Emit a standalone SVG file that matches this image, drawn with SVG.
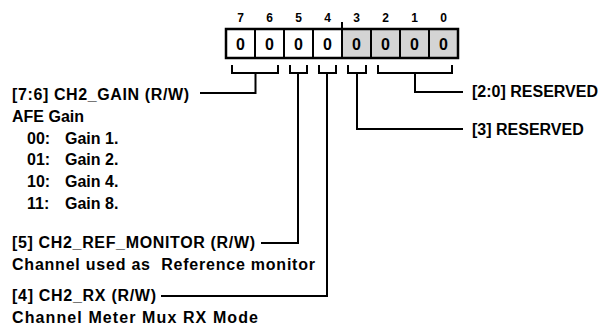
<svg xmlns="http://www.w3.org/2000/svg" width="604" height="333" viewBox="0 0 604 333">
<style>
text{font-family:"Liberation Sans",Arial,sans-serif;font-weight:bold;fill:#000}
.lbl{font-size:16px}
.num{font-size:12px;text-anchor:middle}
.bit{font-size:16px;text-anchor:middle}
.cell{stroke:#000;stroke-width:2}
.w{fill:#fff}
.g{fill:#d4d4d4}
.conn{fill:none;stroke:#000;stroke-width:2}
</style>
<rect width="604" height="333" fill="#fff"/>
<g id="register">
<rect class="cell w" x="226" y="29" width="29" height="29"/>
<rect class="cell w" x="255" y="29" width="29" height="29"/>
<rect class="cell w" x="284" y="29" width="29" height="29"/>
<rect class="cell w" x="313" y="29" width="29" height="29"/>
<rect class="cell g" x="342" y="29" width="29" height="29"/>
<rect class="cell g" x="371" y="29" width="29" height="29"/>
<rect class="cell g" x="400" y="29" width="29" height="29"/>
<rect class="cell g" x="429" y="29" width="29" height="29"/>
<rect x="226" y="29" width="232" height="29" fill="none" stroke="#000" stroke-width="2.5"/>
<text class="bit" x="240.5" y="50">0</text>
<text class="bit" x="269.5" y="50">0</text>
<text class="bit" x="298.5" y="50">0</text>
<text class="bit" x="327.5" y="50">0</text>
<text class="bit" x="356.5" y="50">0</text>
<text class="bit" x="385.5" y="50">0</text>
<text class="bit" x="414.5" y="50">0</text>
<text class="bit" x="443.5" y="50">0</text>
<text class="num" x="240.5" y="22">7</text>
<text class="num" x="269.5" y="22">6</text>
<text class="num" x="298.5" y="22">5</text>
<text class="num" x="327.5" y="22">4</text>
<text class="num" x="356.5" y="22">3</text>
<text class="num" x="385.5" y="22">2</text>
<text class="num" x="414.5" y="22">1</text>
<text class="num" x="443.5" y="22">0</text>
<line x1="342" y1="22" x2="342" y2="29" stroke="#000" stroke-width="2"/>
</g>
<g id="connectors">
<path class="conn" d="M232,65 V73 H278 V65 M255.5,73 V93 H200"/>
<path class="conn" d="M290,65 V73 H307 V65 M298,73 V243 H261"/>
<path class="conn" d="M319,65 V73 H336 V65 M327,73 V296 H161"/>
<path class="conn" d="M348,65 V73 H366 V65 M357,73 V129 H463"/>
<path class="conn" d="M378,65 V73 H452 V65 M415,73 V92 H463"/>
</g>
<g id="field-7-6">
<text class="lbl" x="12" y="100" textLength="177" lengthAdjust="spacing">[7:6] CH2_GAIN (R/W)</text>
<text class="lbl" x="12" y="122">AFE Gain</text>
<text class="lbl" y="143.5"><tspan x="27">00:</tspan><tspan x="65">Gain 1.</tspan></text>
<text class="lbl" y="165"><tspan x="27">01:</tspan><tspan x="65">Gain 2.</tspan></text>
<text class="lbl" y="187"><tspan x="27">10:</tspan><tspan x="65">Gain 4.</tspan></text>
<text class="lbl" y="209"><tspan x="27">11:</tspan><tspan x="65">Gain 8.</tspan></text>
</g>
<g id="field-5">
<text class="lbl" x="12" y="248" textLength="243" lengthAdjust="spacing">[5] CH2_REF_MONITOR (R/W)</text>
<text class="lbl" x="12" y="270" textLength="303" lengthAdjust="spacing" xml:space="preserve">Channel used as  Reference monitor</text>
</g>
<g id="field-4">
<text class="lbl" x="12" y="301" textLength="144" lengthAdjust="spacing">[4] CH2_RX (R/W)</text>
<text class="lbl" x="12" y="323" textLength="246" lengthAdjust="spacing">Channel Meter Mux RX Mode</text>
</g>
<g id="field-3">
<text class="lbl" x="472" y="135">[3] RESERVED</text>
</g>
<g id="field-2-0">
<text class="lbl" x="472" y="97">[2:0] RESERVED</text>
</g>
</svg>
